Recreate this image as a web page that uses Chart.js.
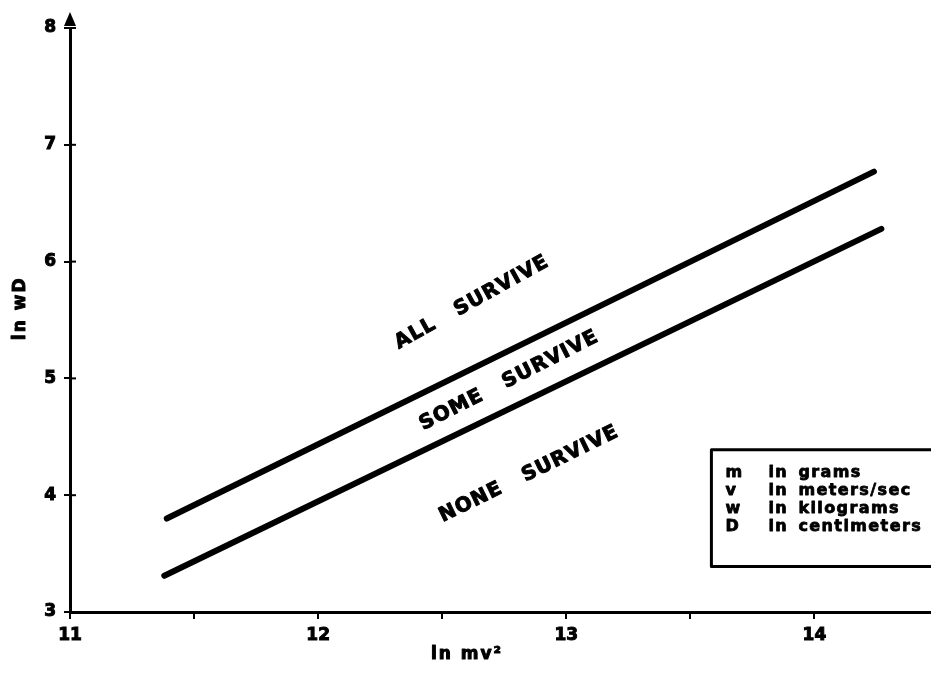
<!DOCTYPE html>
<html>
<head>
<meta charset="utf-8">
<script src="https://cdn.jsdelivr.net/npm/chart.js@4/dist/chart.umd.min.js"></script>
<style>
  html, body { margin: 0; padding: 0; background: #fff; }
  #wrap { width: 931px; height: 677px; }
</style>
</head>
<body>
<div id="wrap"><canvas id="survChart" width="931" height="677"></canvas></div>
<script>
// ticks
const xTicks = [11, 11.5, 12, 12.5, 13, 13.5, 14];
const xTickLabels = ['11', '', '12', '', '13', '', '14'];
const yTicks = [3, 4, 5, 6, 7, 8];

// boundary lines (ln mv^2 -> ln wD)
const upperX = [11.39, 14.24];
const upperY = [3.80, 6.77];
const lowerX = [11.38, 14.27];
const lowerY = [3.31, 6.28];

// region labels, anchored in data units
const regionText = ['ALL   SURVIVE', 'SOME   SURVIVE', 'NONE   SURVIVE'];
const regionX = [12.62, 12.77, 12.85];
const regionY = [5.65, 4.98, 4.18];

// units box
const unitSymbols = ['m', 'v', 'w', 'D'];
const unitWords = ['grams', 'meters/sec', 'kilograms', 'centimeters'];

const FONT = '"DejaVu Sans", sans-serif';
const labelTilt = [29, 27, 26];

const toPts = (xs, ys) => xs.map((x, i) => ({ x: x, y: ys[i] }));

// heavy print look
function inkText(ctx, t, px, py) {
    ctx.fillText(t, px, py);
    ctx.strokeText(t, px, py);
}

const decor = {
    id: 'decor',
    afterDraw(chart) {
        const { ctx, chartArea, scales: { x, y } } = chart;
        ctx.save();
        ctx.fillStyle = '#000';
        ctx.strokeStyle = '#000';

        // arrow on top of the y axis
        const ax = chartArea.left;
        ctx.beginPath();
        ctx.moveTo(ax, chartArea.top - 16);
        ctx.lineTo(ax - 6, chartArea.top - 2);
        ctx.lineTo(ax + 6, chartArea.top - 2);
        ctx.closePath();
        ctx.fill();

        // y ticks also cross into the plot
        ctx.lineWidth = 2;
        yTicks.forEach(v => {
            const py = y.getPixelForValue(v);
            ctx.beginPath();
            ctx.moveTo(ax, py);
            ctx.lineTo(ax + 6, py);
            ctx.stroke();
        });

        // region labels
        ctx.lineWidth = 1;
        ctx.lineJoin = 'round';
        ctx.font = 'bold 20px ' + FONT;
        ctx.letterSpacing = '1px';
        ctx.textAlign = 'center';
        ctx.textBaseline = 'middle';
        regionText.forEach((t, i) => {
            ctx.save();
            ctx.translate(x.getPixelForValue(regionX[i]), y.getPixelForValue(regionY[i]));
            ctx.rotate(-labelTilt[i] * Math.PI / 180);
            inkText(ctx, t, 0, 0);
            ctx.restore();
        });

        // axis titles
        ctx.font = 'bold 17px ' + FONT;
        ctx.letterSpacing = '2px';
        inkText(ctx, 'ln mv²', x.getPixelForValue(12.6), chartArea.bottom + 43);
        ctx.save();
        ctx.translate(21, y.getPixelForValue(5.6));
        ctx.rotate(-Math.PI / 2);
        inkText(ctx, 'ln wD', 0, 0);
        ctx.restore();

        // units box
        const bx = x.getPixelForValue(13.585);
        const by = y.getPixelForValue(4.39);
        const bb = y.getPixelForValue(3.39);
        ctx.lineWidth = 3;
        ctx.strokeRect(bx, by, chart.width - bx + 10, bb - by);
        ctx.lineWidth = 0.8;
        ctx.font = 'bold 16px ' + FONT;
        ctx.letterSpacing = '1.4px';
        ctx.textAlign = 'left';
        unitSymbols.forEach((s, i) => {
            const ly = by + 23 + i * 18;
            inkText(ctx, s, bx + 14, ly);
            inkText(ctx, 'in', bx + 57, ly);
            inkText(ctx, unitWords[i], bx + 87, ly);
        });
        ctx.restore();
    }
};

const lineStyle = {
    borderColor: '#000',
    borderWidth: 6,
    borderCapStyle: 'round',
    pointRadius: 0,
    showLine: true,
    fill: false
};

const tickFont = { family: FONT, size: 17, weight: 'bold' };

new Chart(document.getElementById('survChart'), {
    type: 'scatter',
    data: {
        datasets: [
            { label: 'upper', data: toPts(upperX, upperY), ...lineStyle },
            { label: 'lower', data: toPts(lowerX, lowerY), ...lineStyle }
        ]
    },
    options: {
        responsive: false,
        animation: false,
        layout: { padding: { top: 28, right: 0, left: 0, bottom: 0 } },
        plugins: { legend: { display: false }, tooltip: { enabled: false } },
        scales: {
            x: {
                type: 'linear',
                min: 11,
                max: 14.47,
                afterBuildTicks: s => { s.ticks = xTicks.map(v => ({ value: v })); },
                afterFit: s => { s.height = 65; },
                ticks: {
                    autoSkip: false,
                    maxRotation: 0,
                    padding: 6,
                    color: '#000',
                    textStrokeColor: '#000',
                    textStrokeWidth: 1,
                    font: tickFont,
                    callback: (v) => xTickLabels[xTicks.indexOf(v)] ?? ''
                },
                grid: { drawOnChartArea: false, drawTicks: true, tickLength: 7, color: '#000', lineWidth: 2 },
                border: { color: '#000', width: 3 }
            },
            y: {
                type: 'linear',
                min: 3,
                max: 8,
                afterBuildTicks: s => { s.ticks = yTicks.map(v => ({ value: v })); },
                afterFit: s => { s.width = 70; },
                ticks: {
                    autoSkip: false,
                    padding: 8,
                    color: '#000',
                    textStrokeColor: '#000',
                    textStrokeWidth: 1,
                    font: tickFont
                },
                grid: { drawOnChartArea: false, drawTicks: true, tickLength: 6, color: '#000', lineWidth: 2 },
                border: { color: '#000', width: 3 }
            }
        }
    },
    plugins: [decor]
});
</script>
</body>
</html>
